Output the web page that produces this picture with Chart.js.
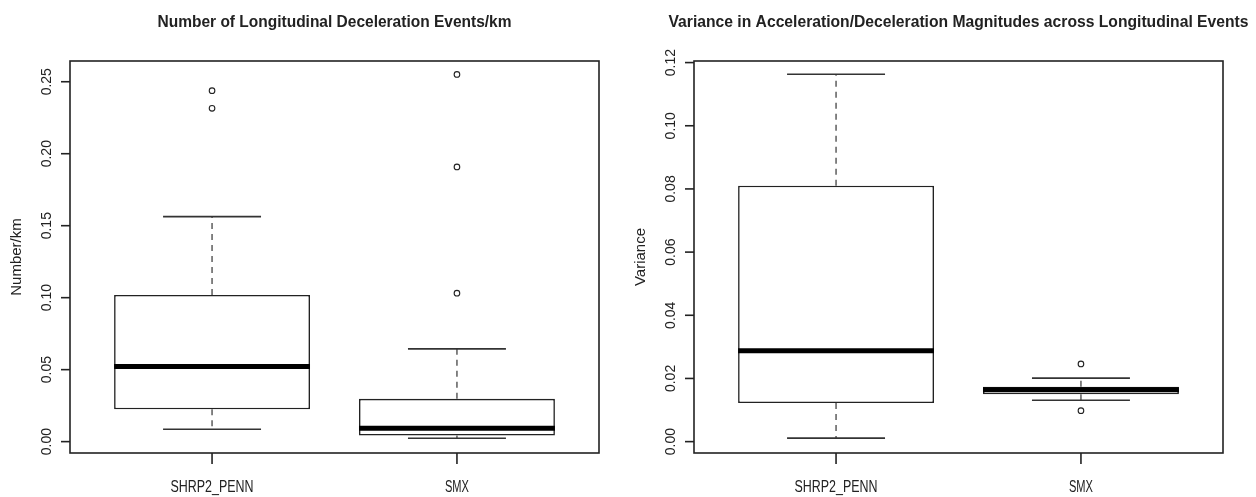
<!DOCTYPE html>
<html>
<head>
<meta charset="utf-8">
<script src="https://cdn.jsdelivr.net/npm/chart.js@4/dist/chart.umd.min.js"></script>
<style>
  body { margin: 0; background: #fff; }
  #wrap { display: flex; width: 1256px; height: 497px; }
  .cell { width: 628px; height: 497px; }
</style>
</head>
<body>
<div id="wrap">
  <div class="cell"><canvas id="chart1" width="628" height="497"></canvas></div>
  <div class="cell"><canvas id="chart2" width="628" height="497"></canvas></div>
</div>
<script>
const groups = ["SHRP2_PENN", "SMX"];

// Number of longitudinal deceleration events / km
const eventsLow = [0.0086, 0.0023];
const eventsQ1 = [0.0225, 0.0042];
const eventsMedian = [0.0521, 0.0093];
const eventsQ3 = [0.1019, 0.0297];
const eventsHigh = [0.1563, 0.0644];
const eventsOutliers = [[0.2438, 0.2315], [0.2551, 0.1908, 0.1031]];
const eventsTicks = [0, 0.05, 0.10, 0.15, 0.20, 0.25];

// Variance in accel/decel magnitudes
const varLow = [0.0011, 0.0131];
const varQ1 = [0.0122, 0.0150];
const varMedian = [0.0288, 0.0164];
const varQ3 = [0.0810, 0.0174];
const varHigh = [0.1163, 0.0201];
const varOutliers = [[], [0.0246, 0.0098]];
const varTicks = [0, 0.02, 0.04, 0.06, 0.08, 0.10, 0.12];

function line(ctx, x0, y0, x1, y1) {
    ctx.beginPath();
    ctx.moveTo(x0, y0);
    ctx.lineTo(x1, y1);
    ctx.stroke();
}

function putText(ctx, text, x, y, font, width, rotate) {
    ctx.save();
    ctx.font = font;
    ctx.fillStyle = "#222";
    ctx.textAlign = "center";
    ctx.textBaseline = rotate ? "middle" : "alphabetic";
    ctx.translate(x, y);
    if (width) {
        ctx.scale(width / ctx.measureText(text).width, 1);
    }
    if (rotate) ctx.rotate(-Math.PI / 2);
    ctx.fillText(text, 0, 0);
    ctx.restore();
}

// whiskers, caps, medians, frame and R-style axes
const rBoxPlot = {
    id: "rbox",
    afterDatasetsDraw(chart, args, o) {
        const ctx = chart.ctx;
        const a = chart.chartArea;
        const xs = chart.scales.x;
        const ys = chart.scales.y;
        ctx.save();
        for (let i = 0; i < o.low.length; i++) {
            const cx = xs.getPixelForValue(i + 1);
            const hi = ys.getPixelForValue(o.high[i]);
            const lo = ys.getPixelForValue(o.low[i]);
            ctx.strokeStyle = "#444";
            ctx.lineWidth = 1.3;
            ctx.setLineDash([6, 5]);
            line(ctx, cx, ys.getPixelForValue(o.q3[i]), cx, hi);
            line(ctx, cx, ys.getPixelForValue(o.q1[i]), cx, lo);
            ctx.setLineDash([]);
            ctx.strokeStyle = "#333";
            ctx.lineWidth = 1.6;
            const c0 = xs.getPixelForValue(i + 0.8);
            const c1 = xs.getPixelForValue(i + 1.2);
            line(ctx, c0, hi, c1, hi);
            line(ctx, c0, lo, c1, lo);
            ctx.strokeStyle = "#000";
            ctx.lineWidth = 5;
            const m = ys.getPixelForValue(o.median[i]);
            line(ctx, xs.getPixelForValue(i + 0.6), m, xs.getPixelForValue(i + 1.4), m);
        }

        ctx.strokeStyle = "#222";
        ctx.lineWidth = 1.6;
        ctx.strokeRect(a.left, a.top, a.right - a.left, a.bottom - a.top);

        ys.ticks.forEach(t => {
            const y = ys.getPixelForValue(t.value);
            line(ctx, a.left - 9, y, a.left, y);
            putText(ctx, t.value.toFixed(2), o.tickX, y, "14px 'Liberation Sans', Arial", 0, true);
        });
        xs.ticks.forEach(t => {
            const x = xs.getPixelForValue(t.value);
            line(ctx, x, a.bottom, x, a.bottom + 11);
            const name = groups[t.value - 1];
            putText(ctx, name, x, 492, "16px 'Liberation Sans', Arial", o.labelWidths[t.value - 1], false);
        });
        putText(ctx, o.yTitle, o.yTitleX, (a.top + a.bottom) / 2, "15px 'Liberation Sans', Arial", 0, true);
        putText(ctx, o.title, (a.left + a.right) / 2, 27, "bold 16px 'Liberation Sans', Arial", o.titleWidth, false);
        ctx.restore();
    }
};

function makeBoxChart(id, stats, outliers, ticks, yMin, yMax, pad, extra) {
    const boxes = groups.map((g, i) => ({ x: i + 1, y: [stats.q1[i], stats.q3[i]] }));
    const points = [];
    outliers.forEach((list, i) => list.forEach(v => points.push({ x: i + 1, y: v })));

    new Chart(document.getElementById(id), {
        type: "bar",
        data: {
            datasets: [{
                type: "scatter",
                data: points,
                pointStyle: "circle",
                pointRadius: 2.8,
                pointBorderWidth: 1.1,
                borderColor: "#222",
                backgroundColor: "rgba(0,0,0,0)"
            }, {
                data: boxes,
                backgroundColor: "#fff",
                borderColor: "#222",
                borderWidth: 1.6,
                borderSkipped: false,
                barPercentage: 0.8,
                categoryPercentage: 1
            }]
        },
        options: {
            responsive: false,
            animation: false,
            layout: { padding: pad },
            scales: {
                x: {
                    type: "linear",
                    display: false,
                    offset: false,
                    min: 0.42,
                    max: 2.58,
                    afterBuildTicks: s => { s.ticks = groups.map((g, i) => ({ value: i + 1 })); }
                },
                y: {
                    type: "linear",
                    display: false,
                    min: yMin,
                    max: yMax,
                    afterBuildTicks: s => { s.ticks = ticks.map(v => ({ value: v })); }
                }
            },
            plugins: {
                legend: { display: false },
                tooltip: { enabled: false },
                rbox: Object.assign({}, stats, extra)
            }
        },
        plugins: [rBoxPlot]
    });
}

makeBoxChart("chart1",
    { low: eventsLow, q1: eventsQ1, median: eventsMedian, q3: eventsQ3, high: eventsHigh },
    eventsOutliers, eventsTicks, -0.0079, 0.2644,
    { left: 70, right: 29, top: 61, bottom: 44 },
    { title: "Number of Longitudinal Deceleration Events/km", titleWidth: 354,
      yTitle: "Number/km", yTitleX: 17, tickX: 47.5, labelWidths: [83, 24] });

makeBoxChart("chart2",
    { low: varLow, q1: varQ1, median: varMedian, q3: varQ3, high: varHigh },
    varOutliers, varTicks, -0.0036, 0.1205,
    { left: 66, right: 33, top: 61, bottom: 44 },
    { title: "Variance in Acceleration/Deceleration Magnitudes across Longitudinal Events", titleWidth: 580,
      yTitle: "Variance", yTitleX: 12.5, tickX: 43, labelWidths: [83, 24] });
</script>
</body>
</html>
